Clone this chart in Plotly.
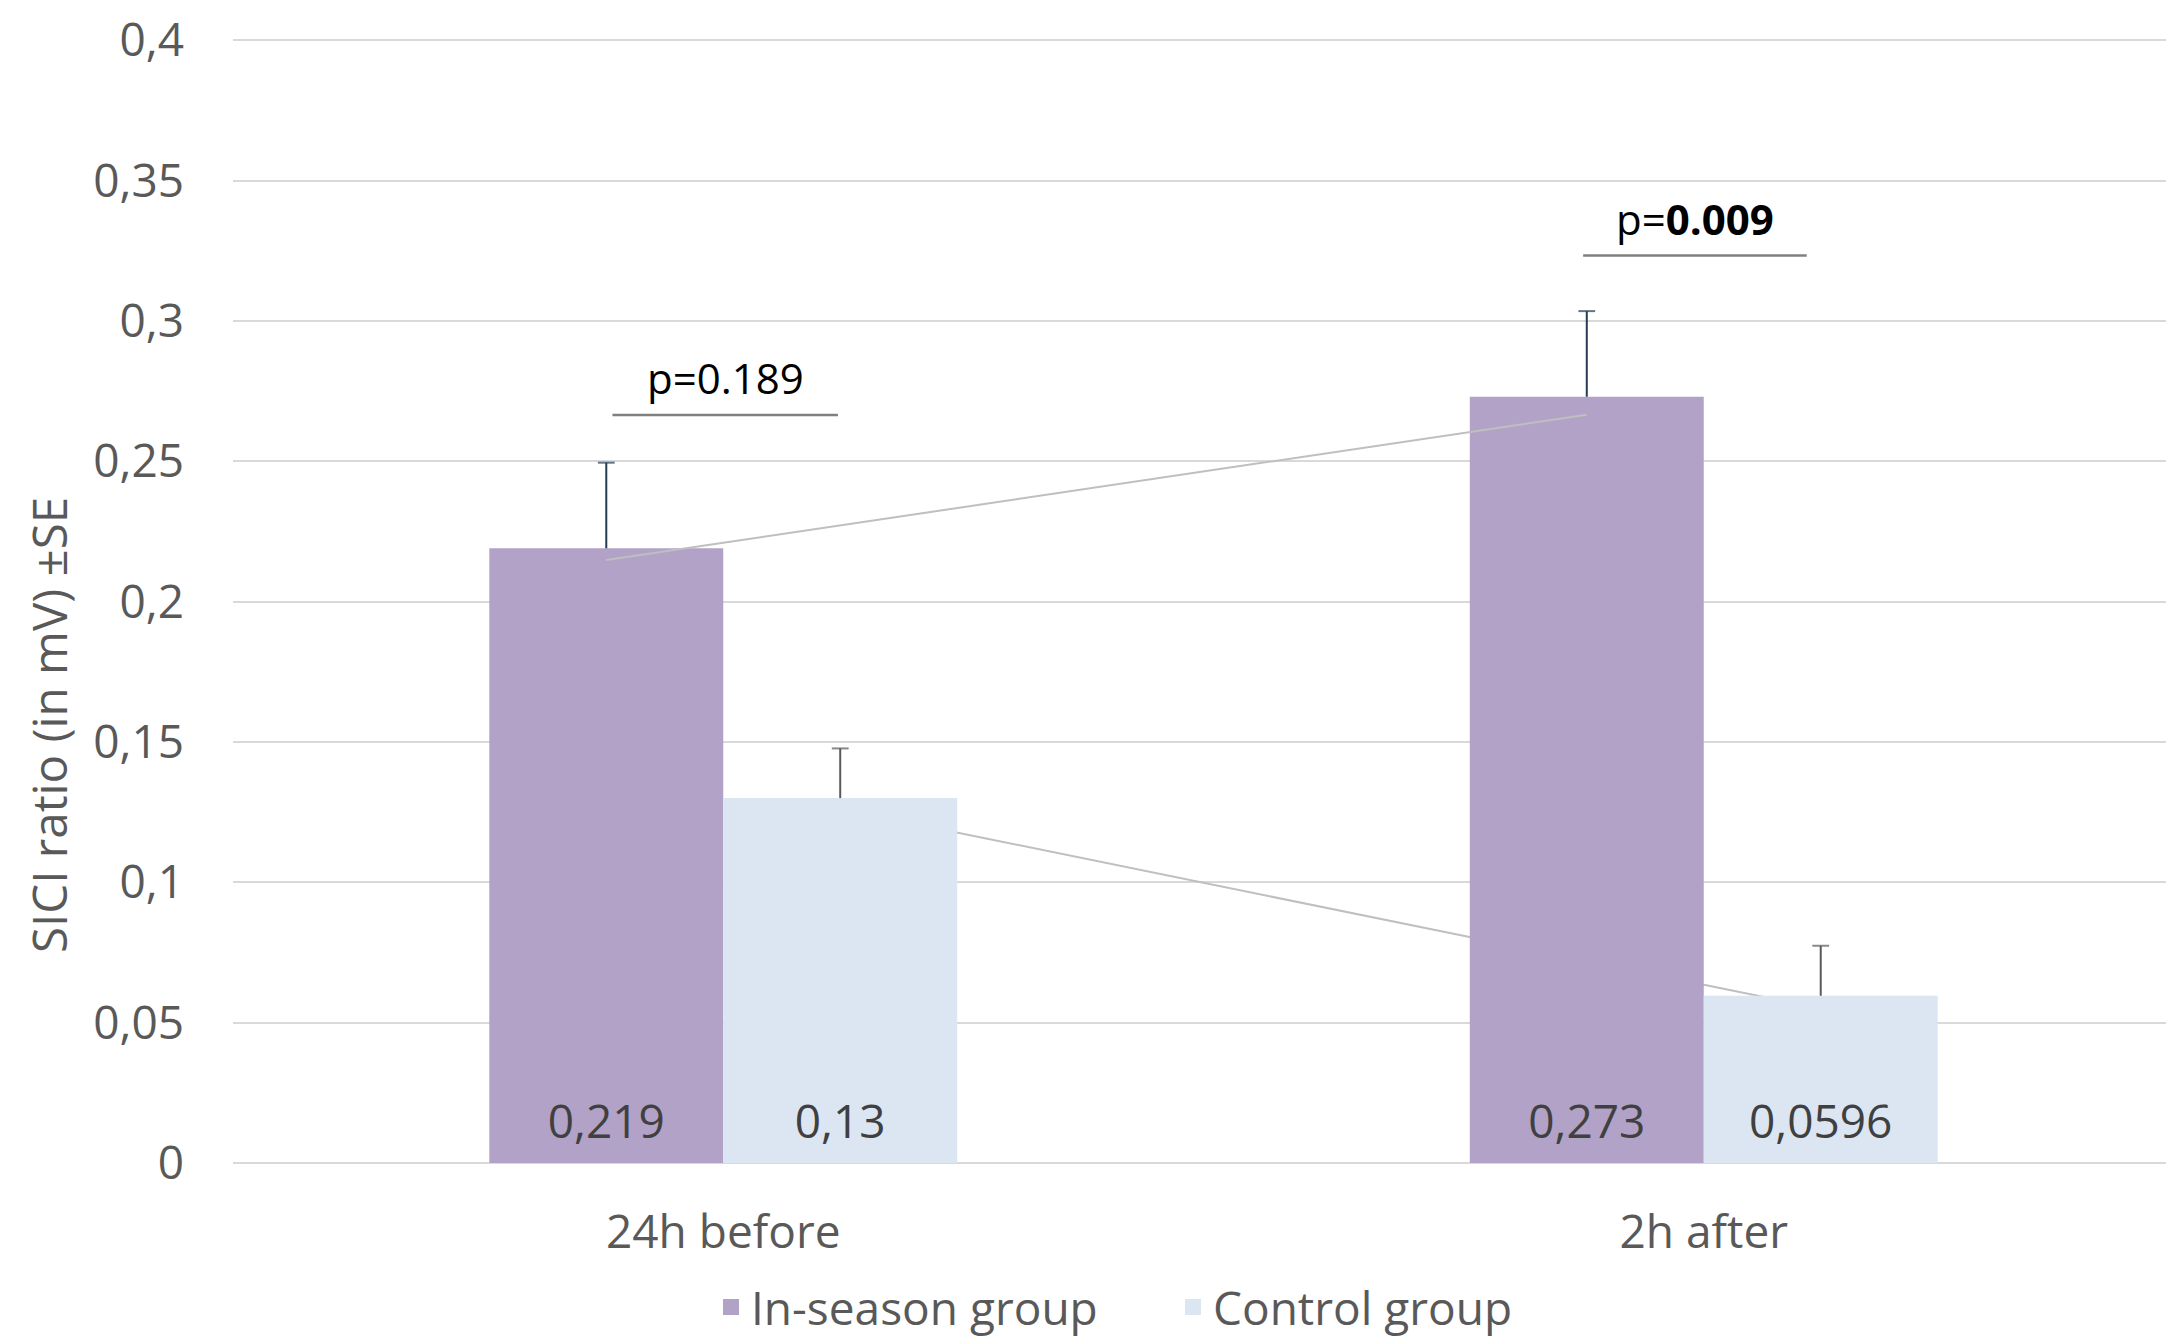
import plotly.graph_objects as go

# ---------------- data ----------------
categories = ["24h before", "2h after"]
inseason = [0.219, 0.273]
control = [0.13, 0.0596]
inseason_se = [0.0305, 0.0305]
control_se = [0.0177, 0.0178]
inseason_trend = [0.2148, 0.2666]
control_trend = [0.1262, 0.0550]
p_labels = ["p=0.189", "p=<b>0.009</b>"]
bracket_y = [0.2665, 0.3233]
p_text_y = [0.280, 0.3365]
y_ticks = [0, 0.05, 0.1, 0.15, 0.2, 0.25, 0.3, 0.35, 0.4]
y_ticktext = ["0", "0,05", "0,1", "0,15", "0,2", "0,25", "0,3", "0,35", "0,4"]
series_names = ["In-season group", "Control group"]

# ---------------- styling ----------------
FONT = "Open Sans"
C_IN = "#B2A2C7"
C_CT = "#DCE6F2"
GRID = "#D9D9D9"
TXT = "#595959"

# page has an 8px body margin on every side: keep the figure inside the window
W, H = 2158, 1328

cat_x = list(range(len(categories)))
off = 0.1193
bw = 0.2386
x_in = [c - off for c in cat_x]
x_ct = [c + off for c in cat_x]
bracket_x0 = [-0.113, -0.123]
bracket_x1 = [0.117, 0.105]
p_dx = [0.002, -0.009]
plot_w = W - 225
xr = [-0.5, -0.5 + plot_w / 980.5]
yr = [0, 0.4008]
label_y = 0.013


def fmt(v):
    return ("%g" % v).replace(".", ",")


def err_trace(xs, vals, ses, color):
    ex, ey, sz = [], [], []
    for x, v, s in zip(xs, vals, ses):
        ex += [x, x, None]
        ey += [v, v + s, None]
        sz += [0, 12, 0]
    return go.Scatter(x=ex, y=ey, mode="lines+markers",
                      line=dict(color=color, width=2),
                      marker=dict(symbol="line-ew", size=sz,
                                  line=dict(color=color, width=2)),
                      showlegend=False, hoverinfo="skip",
                      xaxis="x2", yaxis="y2")


fig = go.Figure()

# control trend line (drawn behind the bars, on the base subplot)
fig.add_trace(go.Scatter(x=x_ct, y=control_trend, mode="lines",
                         line=dict(color="#BFBFBF", width=2),
                         showlegend=False, hoverinfo="skip",
                         xaxis="x", yaxis="y"))

# bars on overlay subplot
fig.add_trace(go.Bar(x=x_in, y=inseason, width=bw, marker=dict(color=C_IN, line=dict(width=0)),
                     name=series_names[0], showlegend=False, xaxis="x2", yaxis="y2"))
fig.add_trace(go.Bar(x=x_ct, y=control, width=bw, marker=dict(color=C_CT, line=dict(width=0)),
                     name=series_names[1], showlegend=False, xaxis="x2", yaxis="y2"))

# error bars (upper only)
fig.add_trace(err_trace(x_in, inseason, inseason_se, "#243B55"))
fig.add_trace(err_trace(x_ct, control, control_se, "#595959"))

# in-season trend line (over the bars)
fig.add_trace(go.Scatter(x=x_in, y=inseason_trend, mode="lines",
                         line=dict(color="#BFBFBF", width=2),
                         showlegend=False, hoverinfo="skip",
                         xaxis="x2", yaxis="y2"))

# data labels at the base of bars
fig.add_trace(go.Scatter(x=x_in + x_ct, y=[label_y] * 4, mode="text",
                         text=[fmt(v) for v in inseason + control],
                         textposition="middle center",
                         textfont=dict(family=FONT, size=46, color="#404040"),
                         showlegend=False, hoverinfo="skip",
                         xaxis="x2", yaxis="y2"))

# significance brackets
for i, c in enumerate(cat_x):
    fig.add_trace(go.Scatter(x=[c + bracket_x0[i], c + bracket_x1[i]],
                             y=[bracket_y[i], bracket_y[i]], mode="lines",
                             line=dict(color="#808080", width=2.5),
                             showlegend=False, hoverinfo="skip",
                             xaxis="x2", yaxis="y2"))
    fig.add_annotation(x=c + p_dx[i], y=p_text_y[i], xref="x2", yref="y2", text=p_labels[i],
                       showarrow=False, xanchor="center", yanchor="middle",
                       font=dict(family=FONT, size=42, color="#000000"))

# legend proxies
for name, col in zip(series_names, [C_IN, C_CT]):
    fig.add_trace(go.Scatter(x=[None], y=[None], mode="markers", name=name,
                             marker=dict(symbol="square", size=30, color=col),
                             showlegend=True, xaxis="x2", yaxis="y2"))

# y-axis title
fig.add_annotation(x=-0.0951, y=0.3895, xref="paper", yref="paper",
                   text="SICI ratio (in mV) ±SE", textangle=-90, showarrow=False,
                   xanchor="center", yanchor="middle",
                   font=dict(family=FONT, size=47.5, color=TXT))

fig.update_layout(
    width=W, height=H,
    margin=dict(l=225, r=0, t=30, b=H - 1155.5, autoexpand=False),
    paper_bgcolor="white", plot_bgcolor="white",
    font=dict(family=FONT, size=46, color=TXT),
    barmode="overlay",
    xaxis=dict(range=xr, tickvals=cat_x, ticktext=categories, showgrid=False,
               zeroline=False, showline=False, ticks="", automargin=False,
               tickfont=dict(family=FONT, size=46, color=TXT),
               ticklabelstandoff=38, ticklabeloverflow="allow"),
    yaxis=dict(range=yr, tickvals=y_ticks, ticktext=y_ticktext, showgrid=True,
               gridcolor=GRID, gridwidth=2, zeroline=True, zerolinecolor=GRID,
               zerolinewidth=2, showline=False, ticks="", automargin=False,
               tickfont=dict(family=FONT, size=46, color=TXT),
               ticklabelstandoff=48, ticklabeloverflow="allow"),
    xaxis2=dict(range=xr, overlaying="x", visible=False),
    yaxis2=dict(range=yr, overlaying="y", visible=False),
    legend=dict(orientation="h", xref="container", yref="container",
                x=703 / W, y=1 - 1299 / H, xanchor="left", yanchor="middle",
                itemsizing="trace", entrywidth=417, entrywidthmode="pixels",
                font=dict(family=FONT, size=46, color=TXT), bgcolor="rgba(0,0,0,0)"),
    showlegend=True,
)

fig.write_html("out.html")
